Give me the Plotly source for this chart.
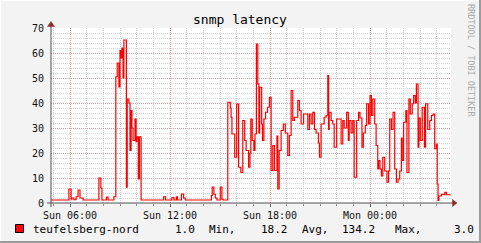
import plotly.graph_objects as go
import pandas as pd

# ---- data ----
start_date = "2024-03-10"  # a Sunday
times = ["04:51","05:56","06:04","06:07","06:14","06:22","06:29","06:36","06:47","07:44",
         "07:51","07:55","08:11","08:17","08:38","08:45","08:50","08:56","09:00","09:04",
         "09:07","09:11","09:14","09:23","09:26","09:32","09:36","09:40","09:43","09:47",
         "09:54","09:58","10:01","10:06","10:10","10:16","11:37","11:44","12:07","12:14",
         "12:23","12:27","12:41","12:49","12:55","14:29","14:32","14:38","14:43","14:49",
         "15:01","15:07","15:11","15:28","15:37","15:40","15:43","15:53","16:00","16:07",
         "16:15","16:22","16:29","16:34","16:43","16:48","16:51","16:56","17:02","17:06",
         "17:11","17:16","17:20","17:23","17:30","17:33","17:38","17:44","17:51","17:58",
         "18:04","18:10","18:16","18:25","18:28","18:33","18:40","18:48","18:55","19:04",
         "19:10","19:16","19:22","19:28","19:40","19:46","19:52","20:01","20:16","20:22",
         "20:28","20:34","20:40","20:46","20:54","20:58","21:04","21:15","21:22","21:28",
         "21:31","21:33","21:40","21:46","21:51","22:00","22:16","22:22","22:27","22:36",
         "22:42","22:45","22:52","22:58","23:03","23:12","23:19","23:24","23:31","23:36",
         "23:43","23:48","23:55","00:00","00:05","00:10","00:17","00:22","00:28","00:31",
         "00:36","00:41","00:46","00:53","01:01","01:07","01:11","01:17","01:23","01:29",
         "01:35","01:41","01:47","01:53","01:56","02:01","02:09","02:13","02:20","02:25",
         "02:32","02:37","02:43","02:47","02:53","02:56","03:01","03:08","03:16","03:20",
         "03:28","03:35","03:41","03:47","03:53","03:59","04:02","04:05","04:08","04:17",
         "04:23","04:29","04:35","04:48"]
latency = [1.2, 5.6, 1.5, 2.0, 1.3, 2.5, 5.2, 2.0, 1.2, 10.0,
           6.0, 1.2, 2.4, 1.2, 2.5, 50.5, 56.0, 46.4, 61.0, 58.0,
           62.0, 50.0, 65.2, 6.3, 41.6, 40.0, 21.0, 37.0, 30.0, 25.0,
           33.6, 24.5, 26.5, 9.6, 26.5, 1.2, 2.5, 1.2, 2.2, 1.2,
           2.5, 1.2, 3.6, 2.0, 1.2, 3.0, 6.4, 3.5, 2.0, 1.2,
           6.4, 1.5, 1.2, 40.3, 38.0, 34.3, 27.6, 18.3, 39.6, 14.3,
           12.2, 33.0, 25.0, 21.0, 14.3, 20.0, 33.6, 25.0, 21.0, 27.6,
           63.6, 47.6, 28.0, 46.3, 31.6, 25.0, 33.6, 36.3, 38.3, 42.3,
           13.0, 23.0, 13.0, 26.8, 5.6, 21.0, 29.0, 31.6, 28.0, 19.0,
           27.0, 45.0, 33.0, 34.3, 41.0, 37.0, 31.6, 35.6, 29.4, 35.6,
           31.6, 36.3, 29.4, 28.0, 24.0, 18.3, 31.6, 34.3, 35.0, 51.0,
           29.4, 36.3, 33.0, 31.6, 22.3, 33.6, 23.6, 33.0, 30.0, 36.3,
           25.0, 33.0, 28.0, 33.0, 10.3, 33.0, 36.3, 34.0, 22.3, 28.0,
           31.0, 39.7, 31.6, 43.0, 35.0, 41.6, 31.6, 23.0, 13.6, 17.0,
           13.6, 10.8, 18.3, 12.8, 8.3, 12.8, 33.6, 29.4, 36.3, 13.6,
           8.3, 9.6, 12.8, 26.0, 17.0, 32.3, 37.0, 12.2, 41.6, 35.6,
           39.7, 43.0, 40.0, 47.6, 22.3, 34.0, 25.0, 38.3, 22.3, 39.7,
           29.4, 33.0, 35.0, 35.6, 21.7, 23.6, 7.6, 1.0, 2.8, 3.5,
           3.3, 4.3, 3.3, 3.0]
series_name = "teufelsberg-nord"
stats_values = ["1.0", "18.2", "134.2", "3.0"]
stats_labels = ["Min,", "Avg,", "Max,"]
title = "snmp latency"
x_start = "2024-03-10 04:51:36"
x_end = "2024-03-11 04:51:36"

# build timestamps (roll to next day after midnight)
stamps = []
day = pd.Timestamp(start_date)
prev = None
for t in times:
    ts = pd.Timestamp(f"{day.date()} {t}")
    if prev is not None and ts < prev:
        day = day + pd.Timedelta(days=1)
        ts = pd.Timestamp(f"{day.date()} {t}")
    stamps.append(ts)
    prev = ts

W, H = 481, 243
L, R, T, B = 51, 451, 28, 203

def px(x):
    return (x - L) / (R - L)

def py(y):
    return (B - y) / (B - T)

MONO = "DejaVu Sans Mono"

fig = go.Figure()
fig.add_trace(go.Scatter(
    x=stamps, y=latency, mode="lines", line_shape="hv",
    line=dict(color="#FF0000", width=1.2), showlegend=False, hoverinfo="skip"))

fig.update_layout(
    width=W, height=H,
    margin=dict(l=L, r=W - R, t=T, b=H - B, pad=0),
    paper_bgcolor="#F3F3F3", plot_bgcolor="#FFFFFF",
    showlegend=False,
    font=dict(family=MONO, size=10, color="#000000"),
)
fig.update_xaxes(
    type="date", range=[x_start, x_end],
    tick0="2024-03-10 00:00", dtick=6 * 3600000, tickformat="%a %H:%M",
    showgrid=True, gridcolor="rgba(225,120,120,0.75)", griddash="1px,1px", gridwidth=1,
    ticks="outside", ticklen=3, tickcolor="#606060", tickwidth=1,
    minor=dict(dtick=3600000, showgrid=True, gridcolor="#D2D2D2", griddash="1px,1px",
               ticks="outside", ticklen=2, tickcolor="#909090"),
    showline=False, zeroline=False,
    tickfont=dict(family=MONO, size=10, color="#111111"),
)
fig.update_yaxes(
    range=[0, 70], dtick=10, tick0=0,
    showgrid=True, gridcolor="rgba(225,120,120,0.75)", griddash="1px,1px", gridwidth=1,
    minor=dict(dtick=2, showgrid=True, gridcolor="#D2D2D2", griddash="1px,1px"),
    ticks="", showline=False, zeroline=False,
    ticklabelstandoff=6,
    tickfont=dict(family=MONO, size=10, color="#111111"),
)

shapes = []
# axis lines
shapes.append(dict(type="line", xref="paper", yref="paper", x0=px(47), x1=px(453), y0=py(203), y1=py(203),
                   line=dict(color="#505050", width=1)))
shapes.append(dict(type="line", xref="paper", yref="paper", x0=px(51), x1=px(51), y0=py(207), y1=py(25),
                   line=dict(color="#505050", width=1)))
# arrows
shapes.append(dict(type="path", xref="paper", yref="paper",
                   path=f"M {px(452.5)},{py(199.5)} L {px(457)},{py(203)} L {px(452.5)},{py(206.5)} Z",
                   fillcolor="#8B2A2A", line=dict(color="#8B2A2A", width=0.5)))
shapes.append(dict(type="path", xref="paper", yref="paper",
                   path=f"M {px(47.5)},{py(26.5)} L {px(51)},{py(21.5)} L {px(54.5)},{py(26.5)} Z",
                   fillcolor="#8B2A2A", line=dict(color="#8B2A2A", width=0.5)))
# legend swatch
shapes.append(dict(type="rect", xref="paper", yref="paper", x0=px(15.5), x1=px(23.5), y0=py(232.5), y1=py(224.5),
                   fillcolor="#FF0000", line=dict(color="#000000", width=1)))
# frame
shapes.append(dict(type="line", xref="paper", yref="paper", x0=px(0), x1=px(481), y0=py(242), y1=py(242),
                   line=dict(color="#9C9C9C", width=2)))
shapes.append(dict(type="line", xref="paper", yref="paper", x0=px(480), x1=px(480), y0=py(0), y1=py(243),
                   line=dict(color="#9C9C9C", width=2)))
shapes.append(dict(type="line", xref="paper", yref="paper", x0=px(0), x1=px(479), y0=py(0.5), y1=py(0.5),
                   line=dict(color="#FFFFFF", width=1)))
shapes.append(dict(type="line", xref="paper", yref="paper", x0=px(0.5), x1=px(0.5), y0=py(0), y1=py(241),
                   line=dict(color="#FFFFFF", width=1)))
fig.update_layout(shapes=shapes)

ann = []
ann.append(dict(text=title, xref="paper", yref="paper", x=px(240), y=py(19), xanchor="center", yanchor="middle",
                showarrow=False, font=dict(family=MONO, size=13, color="#000000")))
ann.append(dict(text="RRDTOOL / TOBI OETIKER", xref="paper", yref="paper", x=px(471), y=py(60),
                xanchor="center", yanchor="middle", textangle=90, showarrow=False,
                font=dict(family=MONO, size=8.5, color="#A8A8A8")))
leg_y = py(229)
legend_items = [
    (series_name, 30.5),
    (stats_values[0], 172.5), (stats_labels[0], 206.5),
    (stats_values[1], 259), (stats_labels[1], 300),
    (stats_values[2], 340), (stats_labels[2], 392.5),
    (stats_values[3], 451.5),
]
for txt, x in legend_items:
    ann.append(dict(text=txt, xref="paper", yref="paper", x=px(x), y=leg_y, xanchor="left", yanchor="middle",
                    showarrow=False, font=dict(family=MONO, size=11, color="#000000")))
fig.update_layout(annotations=ann)

fig.write_html("out.html")
